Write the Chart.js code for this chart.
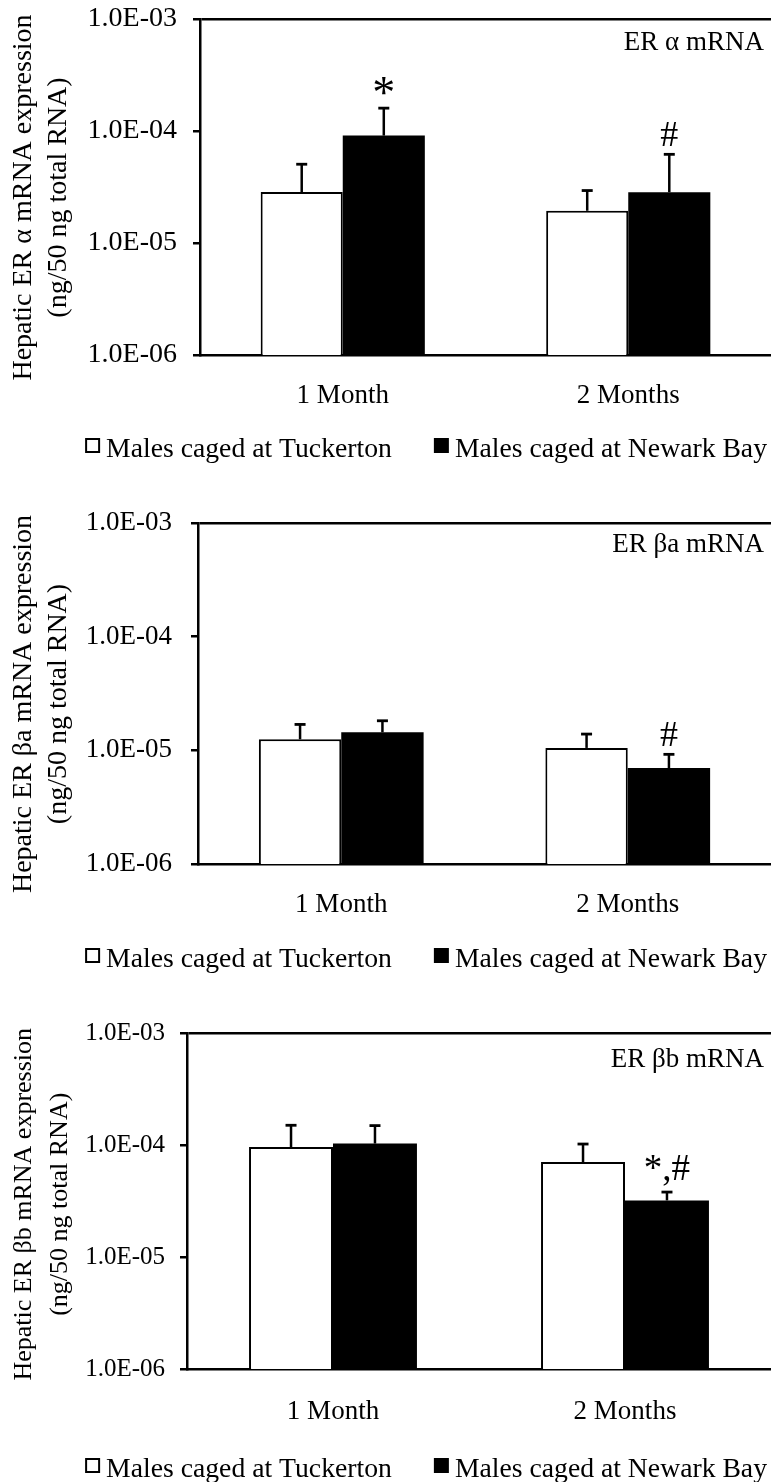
<!DOCTYPE html>
<html><head><meta charset="utf-8">
<script src="https://cdn.jsdelivr.net/npm/chart.js@4.4.1/dist/chart.umd.min.js"></script>
<style>
html,body{margin:0;padding:0;background:#fff;overflow:hidden;width:771px;height:1482px;}
canvas{position:absolute;left:0;}
</style></head><body>
<canvas id="c1"></canvas><canvas id="c2"></canvas><canvas id="c3"></canvas>
<script>
// ---------------- data ----------------
const categories = ['1 Month', '2 Months'];
const seriesNames = ['Males caged at Tuckerton', 'Males caged at Newark Bay'];
const yTickValues = [1e-6, 1e-5, 1e-4, 1e-3];
const yTickLabels = ['1.0E-06', '1.0E-05', '1.0E-04', '1.0E-03'];

const panelLabels = ['ER \u03b1 mRNA', 'ER \u03b2a mRNA', 'ER \u03b2b mRNA'];
const yTitleAlpha = ['Hepatic ER \u03b1 mRNA expression', '(ng/50 ng total RNA)'];
const yTitleBetaA = ['Hepatic ER \u03b2a mRNA expression', '(ng/50 ng total RNA)'];
const yTitleBetaB = ['Hepatic ER \u03b2b mRNA expression', '(ng/50 ng total RNA)'];

// ER alpha
const alphaTuckerton   = [2.85e-5, 1.94e-5];
const alphaTuckertonSE = [2.2e-5, 1.0e-5];
const alphaNewark      = [9.1e-5, 2.84e-5];
const alphaNewarkSE    = [6.9e-5, 3.35e-5];
const alphaTuckertonMarks = ['', ''];
const alphaNewarkMarks    = ['*', '#'];

// ER beta a
const betaATuckerton   = [1.25e-5, 1.05e-5];
const betaATuckertonSE = [0.44e-5, 0.34e-5];
const betaANewark      = [1.44e-5, 6.98e-6];
const betaANewarkSE    = [0.38e-5, 2.24e-6];
const betaATuckertonMarks = ['', ''];
const betaANewarkMarks    = ['', '#'];

// ER beta b
const betaBTuckerton   = [9.6e-5, 7.05e-5];
const betaBTuckertonSE = [5.4e-5, 3.15e-5];
const betaBNewark      = [1.03e-4, 3.2e-5];
const betaBNewarkSE    = [4.6e-5, 0.6e-5];
const betaBTuckertonMarks = ['', ''];
const betaBNewarkMarks    = ['', '*,#'];

// ---------------- styles / layout ----------------
const FONT = '"Liberation Serif", "Times New Roman", serif';
const markStyle = {'*': {size: 46, gap: 0}, '#': {size: 36, gap: 8}, '*,#': {size: 37, gap: 12}};
const layouts = [
  {top: 0,   height: 480, padTop: 19, padBottom: 65, axisW: 200, tickFont: 28, tickPad: 16,
   titleFont: 28, titleLH: 35, titlePad: 6, titleTail: '   ', labelBase: 31, xPad: 25, legendBase: 102},
  {top: 480, height: 495, padTop: 43, padBottom: 51, axisW: 198, tickFont: 27, tickPad: 19,
   titleFont: 28, titleLH: 35, titlePad: 6, titleTail: '   ', labelBase: 29, xPad: 25, legendBase: 103},
  {top: 975, height: 507, padTop: 58, padBottom: 53, axisW: 187, tickFont: 25, tickPad: 15,
   titleFont: 26, titleLH: 36, titlePad: 6, titleTail: ' ', labelBase: 34, xPad: 27, legendBase: 108}
];

Chart.defaults.font.family = FONT;
Chart.defaults.color = '#000';
Chart.defaults.animation = false;

const decor = {
  id: 'decor',
  afterDatasetsDraw(chart, args, o) {
    const {ctx, chartArea} = chart;
    const y = chart.scales.y;
    ctx.save();
    chart.data.datasets.forEach((ds, i) => {
      const meta = chart.getDatasetMeta(i);
      meta.data.forEach((bar, j) => {
        const yTop = y.getPixelForValue(ds.data[j] + ds.se[j]);
        ctx.strokeStyle = '#000';
        ctx.lineWidth = 2.5;
        ctx.lineCap = 'butt';
        ctx.beginPath();
        ctx.moveTo(bar.x, bar.y);
        ctx.lineTo(bar.x, yTop);
        ctx.stroke();
        ctx.lineWidth = 2.8;
        ctx.beginPath();
        ctx.moveTo(bar.x - 5.5, yTop);
        ctx.lineTo(bar.x + 5.5, yTop);
        ctx.stroke();
        const m = ds.marks[j];
        if (m) {
          const st = markStyle[m];
          ctx.fillStyle = '#000';
          ctx.font = st.size + 'px ' + FONT;
          ctx.textAlign = 'center';
          ctx.textBaseline = 'alphabetic';
          ctx.fillText(m, bar.x, yTop - st.gap);
        }
      });
    });
    // panel label
    ctx.font = '27px ' + FONT;
    ctx.fillStyle = '#000';
    ctx.textAlign = 'right';
    ctx.textBaseline = 'alphabetic';
    ctx.fillText(o.label, chartArea.right - 7, chartArea.top + o.labelBase);
    // legend
    ctx.font = '27.7px ' + FONT;
    ctx.textAlign = 'left';
    const base = chartArea.bottom + o.legendBase;
    const box = 15, boxGap = 6, itemGap = 42;
    const w = chart.data.datasets.map(d => ctx.measureText(d.label).width);
    let x = chartArea.right - 4 - (w[0] + w[1] + 2 * (box + boxGap) + itemGap);
    chart.data.datasets.forEach((d, i) => {
      if (d.backgroundColor === '#000') {
        ctx.fillStyle = '#000';
        ctx.fillRect(x, base - 19, box, box);
      } else {
        ctx.strokeStyle = '#000';
        ctx.lineWidth = 2;
        ctx.strokeRect(x + 1, base - 18, box - 2, box - 2);
      }
      ctx.fillStyle = '#000';
      ctx.fillText(d.label, x + box + boxGap, base);
      x += box + boxGap + w[i] + itemGap;
    });
    ctx.restore();
  }
};

function makeChart(id, L, label, yTitle, tuck, tuckSE, tuckMarks, newark, newarkSE, newarkMarks) {
  const cv = document.getElementById(id);
  cv.width = 771; cv.height = L.height;
  cv.style.top = L.top + 'px';
  cv.style.width = '771px'; cv.style.height = L.height + 'px';
  return new Chart(cv, {
    type: 'bar',
    data: {
      labels: categories,
      datasets: [
        {label: seriesNames[0], data: tuck, se: tuckSE, marks: tuckMarks,
         backgroundColor: '#fff', borderColor: '#000', borderWidth: 2},
        {label: seriesNames[1], data: newark, se: newarkSE, marks: newarkMarks,
         backgroundColor: '#000', borderColor: '#000', borderWidth: 0}
      ]
    },
    options: {
      responsive: false,
      devicePixelRatio: 1,
      animation: false,
      barPercentage: 1,
      categoryPercentage: 0.575,
      layout: {padding: {top: L.padTop, bottom: L.padBottom, left: 0, right: 0}},
      plugins: {
        legend: {display: false},
        tooltip: {enabled: false},
        decor: {label: label, labelBase: L.labelBase, legendBase: L.legendBase}
      },
      scales: {
        x: {
          grid: {display: false, drawTicks: false},
          border: {display: true, color: '#000', width: 2.5},
          ticks: {padding: L.xPad, font: {size: 27, family: FONT}, color: '#000'},
          afterFit: s => { s.height = 60; }
        },
        y: {
          type: 'logarithmic',
          min: yTickValues[0],
          max: yTickValues[yTickValues.length - 1],
          afterBuildTicks: s => { s.ticks = yTickValues.map(v => ({value: v})); },
          afterFit: s => { s.width = L.axisW; },
          grid: {
            color: c => (c.tick && c.tick.value === yTickValues[yTickValues.length - 1]) ? '#000' : 'rgba(0,0,0,0)',
            lineWidth: 2.5,
            tickColor: '#000',
            tickWidth: 2.5,
            tickLength: 7,
            drawTicks: true
          },
          border: {display: true, color: '#000', width: 2.5},
          ticks: {
            padding: L.tickPad,
            font: {size: L.tickFont, family: FONT, lineHeight: 0.1},
            color: '#000',
            callback: (v, i) => yTickLabels[i]
          },
          title: {
            display: true,
            text: yTitle.map(t => t + L.titleTail),
            font: {size: L.titleFont, family: FONT, lineHeight: L.titleLH / L.titleFont},
            color: '#000',
            padding: {top: L.titlePad, bottom: 0}
          }
        }
      }
    },
    plugins: [decor]
  });
}

makeChart('c1', layouts[0], panelLabels[0], yTitleAlpha,
  alphaTuckerton, alphaTuckertonSE, alphaTuckertonMarks, alphaNewark, alphaNewarkSE, alphaNewarkMarks);
makeChart('c2', layouts[1], panelLabels[1], yTitleBetaA,
  betaATuckerton, betaATuckertonSE, betaATuckertonMarks, betaANewark, betaANewarkSE, betaANewarkMarks);
makeChart('c3', layouts[2], panelLabels[2], yTitleBetaB,
  betaBTuckerton, betaBTuckertonSE, betaBTuckertonMarks, betaBNewark, betaBNewarkSE, betaBNewarkMarks);
</script>
</body></html>
